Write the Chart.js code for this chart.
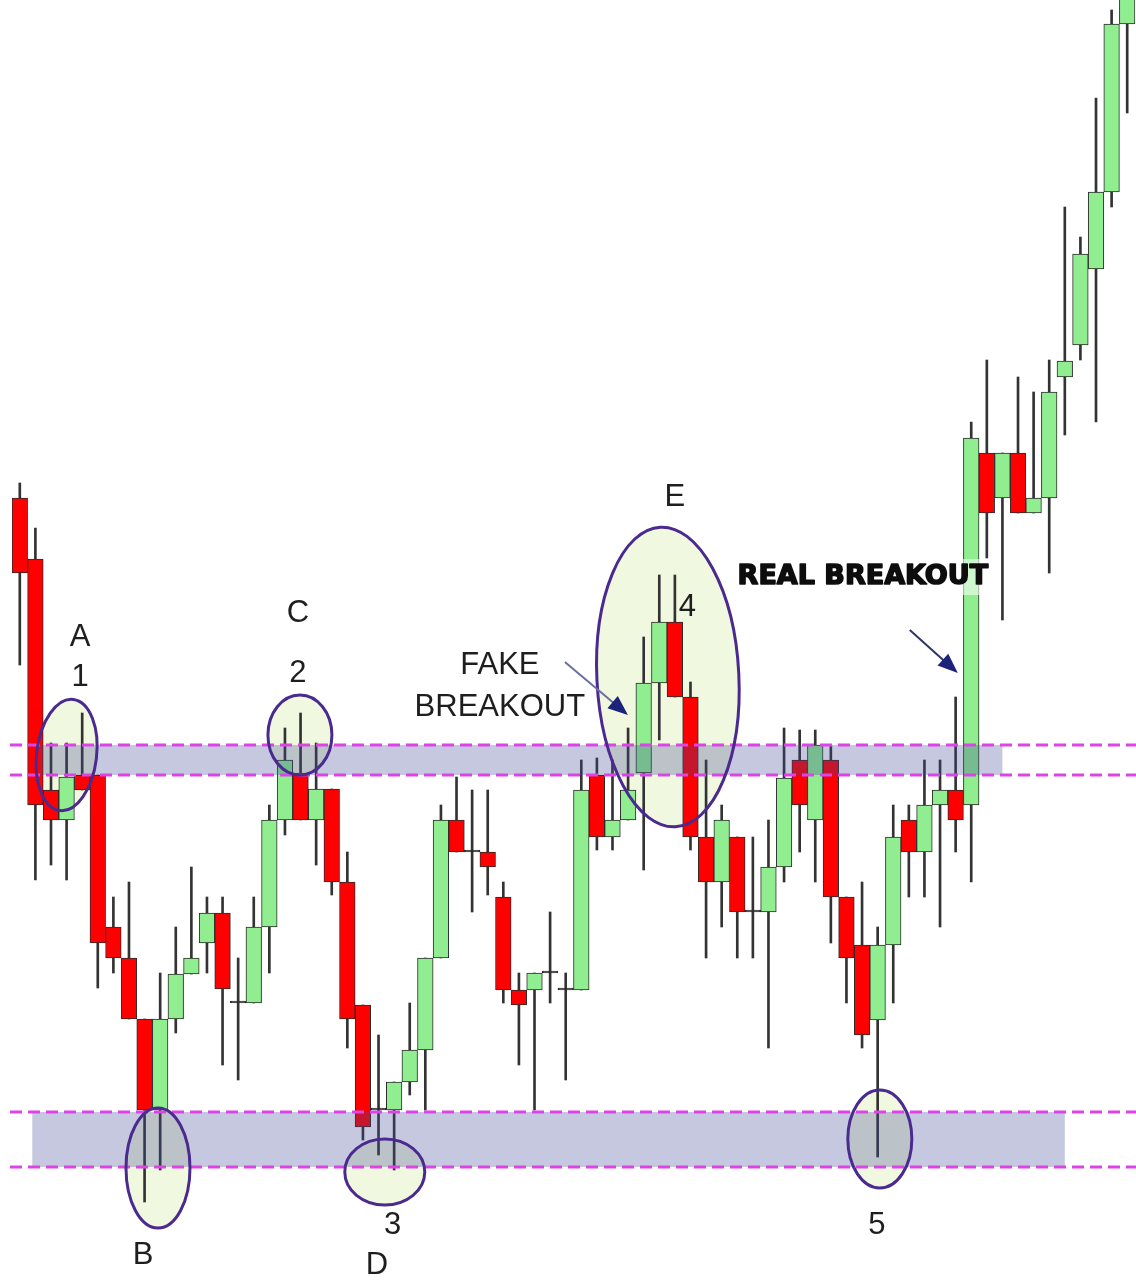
<!DOCTYPE html>
<html>
<head>
<meta charset="utf-8">
<script src="https://cdn.jsdelivr.net/npm/chart.js@4.4.1/dist/chart.umd.min.js"></script>
<style>
  html, body { margin: 0; padding: 0; background: #fff; }
  #wrap { width: 1136px; height: 1283px; position: relative; }
</style>
</head>
<body>
<div id="wrap"><canvas id="chart"></canvas></div>
<script>
// candle prices (price units, 0 = bottom of the frame)
const opens  = [785,724,493,463,508,508,356,325,264,173,264,309,340,370,280,280,356,463,510,463,494,401,278,173,
                173,201,233,325,463,431,431,386,293,293,310,293,293,508,446,463,510,600,661,586,446,401,446,371,
                371,416,523,463,523,386,338,263,338,463,431,478,493,478,830,785,830,770,785,906,938,1014,1091,1259];
const highs  = [800,755,540,540,570,508,386,401,264,310,356,416,386,386,325,386,478,555,570,540,494,431,278,248,
                201,280,325,478,506,493,493,401,310,310,371,310,523,525,523,555,646,708,708,601,523,478,446,446,
                463,555,553,553,538,386,401,356,478,478,523,523,586,861,923,830,906,891,923,1076,1046,1185,1273,1303];
const lows   = [618,403,418,403,493,295,310,264,81,113,250,309,310,218,203,280,310,448,463,418,388,235,143,128,
                113,188,173,325,431,371,388,280,218,173,280,203,293,433,433,463,413,543,586,433,325,356,325,325,
                235,401,431,401,340,280,235,126,280,386,386,356,431,401,725,663,770,770,710,848,923,861,1076,1170];
const closes = [710,478,463,506,493,340,325,264,173,264,309,325,370,294,280,356,463,523,463,494,401,264,156,173,
                201,233,325,463,431,431,416,293,278,310,310,293,493,446,463,493,600,661,586,446,401,463,371,371,
                416,505,478,538,386,325,248,338,446,431,478,493,463,845,770,830,770,785,891,922,1029,1091,1259,1303];
const labels = opens.map((v, i) => String(i + 1));

// support / resistance zones and the notes on the picture
const zones = [
  { low: 508, high: 538, from: 1.3, to: 63.0 },
  { low: 116, high: 171, from: 0.8, to: 67.0 }
];
const rings = [
  { at: 3.0,  price: 528, rx: 30, ry: 56,  tilt: 0.12 },
  { at: 17.96, price: 548, rx: 32, ry: 40, tilt: 0 },
  { at: 8.86, price: 115, rx: 32, ry: 60,  tilt: 0 },
  { at: 23.4, price: 111, rx: 40, ry: 33,  tilt: 0 },
  { at: 41.55, price: 606, rx: 71, ry: 150, tilt: -0.05 },
  { at: 55.14, price: 144, rx: 32, ry: 49, tilt: 0 }
];
const notes = [
  { text: 'A', at: 3.86, price: 646 },
  { text: '1', at: 3.86, price: 606 },
  { text: 'C', at: 17.83, price: 670 },
  { text: '2', at: 17.83, price: 610 },
  { text: 'B', at: 7.9, price: 28 },
  { text: '3', at: 23.9, price: 58 },
  { text: 'D', at: 22.9, price: 18 },
  { text: 'E', at: 42.0, price: 786 },
  { text: '4', at: 42.8, price: 676 },
  { text: '5', at: 54.95, price: 58 },
  { text: 'FAKE', at: 30.78, price: 618 },
  { text: 'BREAKOUT', at: 30.78, price: 576 }
];
const arrows = [
  { from: [34.95, 621], to: [38.99, 568], shaft: '#6b6f9e' },
  { from: [57.06, 653], to: [60.14, 610], shaft: '#2c3566' }
];

const bodies = opens.map((o, i) => [o, closes[i]]);
const wicks = lows.map((l, i) => [l, highs[i]]);
const bodyColors = opens.map((o, i) => closes[i] > o ? '#90ee90' : (closes[i] < o ? '#ff0000' : '#333333'));

const overlay = {
  id: 'overlay',
  beforeDatasetsDraw(chart) {
    const { ctx, scales: { x, y } } = chart;
    ctx.save();
    ctx.fillStyle = '#f1f8e0';
    rings.forEach(r => {
      ctx.beginPath();
      ctx.ellipse(x.getPixelForValue(r.at), y.getPixelForValue(r.price), r.rx, r.ry, r.tilt, 0, Math.PI * 2);
      ctx.fill();
    });
    ctx.restore();
  },
  afterDatasetsDraw(chart) {
    const { ctx, scales: { x, y } } = chart;
    ctx.save();
    // shaded zones
    zones.forEach(z => {
      const top = y.getPixelForValue(z.high), bot = y.getPixelForValue(z.low);
      ctx.fillStyle = 'rgba(62,72,150,0.3)';
      ctx.fillRect(x.getPixelForValue(z.from), top, x.getPixelForValue(z.to) - x.getPixelForValue(z.from), bot - top);
      ctx.strokeStyle = '#dd44e6';
      ctx.lineWidth = 3;
      ctx.setLineDash([12, 6]);
      [top, bot].forEach(py => {
        ctx.beginPath();
        ctx.moveTo(10, py);
        ctx.lineTo(chart.width, py);
        ctx.stroke();
      });
    });
    ctx.setLineDash([]);
    // ring outlines
    ctx.strokeStyle = '#4b2a8f';
    ctx.lineWidth = 3;
    rings.forEach(r => {
      ctx.beginPath();
      ctx.ellipse(x.getPixelForValue(r.at), y.getPixelForValue(r.price), r.rx, r.ry, r.tilt, 0, Math.PI * 2);
      ctx.stroke();
    });
    // labels
    ctx.fillStyle = '#1e1e1e';
    ctx.textAlign = 'center';
    ctx.textBaseline = 'middle';
    ctx.font = '31px "Liberation Sans", Arial, sans-serif';
    notes.forEach(n => ctx.fillText(n.text, x.getPixelForValue(n.at), y.getPixelForValue(n.price)));
    // real breakout caption with a light backing
    const rx = x.getPixelForValue(54.05), ry = y.getPixelForValue(706);
    ctx.font = 'bold 27px "DejaVu Sans", sans-serif';
    const w = ctx.measureText('REAL BREAKOUT').width;
    ctx.fillStyle = 'rgba(255,255,255,0.55)';
    ctx.fillRect(rx - w / 2 - 4, ry - 18, w + 8, 36);
    ctx.fillStyle = '#0d0d0d';
    ctx.strokeStyle = '#0d0d0d';
    ctx.lineWidth = 1.6;
    ctx.lineJoin = 'round';
    ctx.strokeText('REAL BREAKOUT', rx, ry);
    ctx.fillText('REAL BREAKOUT', rx, ry);
    // arrows
    arrows.forEach(a => {
      const x0 = x.getPixelForValue(a.from[0]), y0 = y.getPixelForValue(a.from[1]);
      const x1 = x.getPixelForValue(a.to[0]), y1 = y.getPixelForValue(a.to[1]);
      const ang = Math.atan2(y1 - y0, x1 - x0);
      ctx.strokeStyle = a.shaft;
      ctx.lineWidth = 2;
      ctx.beginPath();
      ctx.moveTo(x0, y0);
      ctx.lineTo(x1 - 14 * Math.cos(ang), y1 - 14 * Math.sin(ang));
      ctx.stroke();
      ctx.fillStyle = '#1c2378';
      ctx.beginPath();
      ctx.moveTo(x1, y1);
      ctx.lineTo(x1 - 20 * Math.cos(ang) + 8 * Math.sin(ang), y1 - 20 * Math.sin(ang) - 8 * Math.cos(ang));
      ctx.lineTo(x1 - 20 * Math.cos(ang) - 8 * Math.sin(ang), y1 - 20 * Math.sin(ang) + 8 * Math.cos(ang));
      ctx.closePath();
      ctx.fill();
    });
    ctx.restore();
  }
};

new Chart(document.getElementById('chart'), {
  type: 'bar',
  data: {
    labels: labels,
    datasets: [
      {
        label: 'body',
        data: bodies,
        backgroundColor: bodyColors,
        borderColor: '#2b2b2b',
        borderWidth: 1,
        borderSkipped: false,
        minBarLength: 2,
        barPercentage: 1,
        categoryPercentage: 1,
        grouped: false,
        order: 0
      },
      {
        label: 'wick',
        data: wicks,
        backgroundColor: '#333333',
        barThickness: 2,
        grouped: false,
        order: 1
      }
    ]
  },
  options: {
    responsive: true,
    maintainAspectRatio: false,
    animation: false,
    layout: { padding: { left: 12, right: 1, top: 0, bottom: 0 } },
    plugins: { legend: { display: false }, tooltip: { enabled: false } },
    scales: {
      x: { display: false, offset: true },
      y: { display: false, min: 0, max: 1283 }
    }
  },
  plugins: [overlay]
});
</script>
</body>
</html>
